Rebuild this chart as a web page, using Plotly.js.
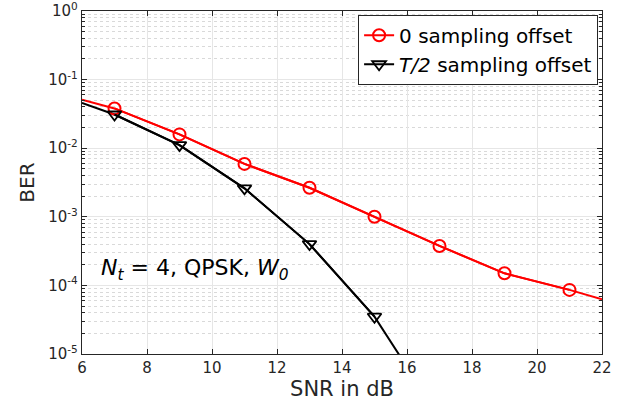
<!DOCTYPE html>
<html><head><meta charset="utf-8">
<script src="https://cdn.plot.ly/plotly-3.0.1.min.js"></script>
<style>body{margin:0;background:#fff}#c{width:624px;height:403px}</style>
</head><body><div id="c"></div>
<script>
// Red curve: 0 sampling offset
const redLineX = [6, 7, 9, 11, 13, 15, 17, 19, 21, 22];
const redLineY = [0.051, 0.038, 0.0159, 0.0059, 0.00265, 0.00100, 0.000376, 0.000150, 0.000086, 0.000063];
const redMarkX = [7, 9, 11, 13, 15, 17, 19, 21];
const redMarkY = [0.038, 0.0159, 0.0059, 0.00265, 0.00100, 0.000376, 0.000150, 0.000086];
// Black curve: T/2 sampling offset
const blkLineX = [6, 7, 9, 11, 13, 15, 17];
const blkLineY = [0.0458, 0.031, 0.0111, 0.0026, 0.00040, 0.000035, 0.0000012];
const blkMarkX = [7, 9, 11, 13, 15];
const blkMarkY = [0.031, 0.0111, 0.0026, 0.00040, 0.000035];
const yTickVals = [1e-5, 1e-4, 1e-3, 1e-2, 1e-1, 1];
const yTickText = ['10<sup>-5</sup>','10<sup>-4</sup>','10<sup>-3</sup>','10<sup>-2</sup>','10<sup>-1</sup>','10<sup>0</sup>'];
const xTickVals = [6, 8, 10, 12, 14, 16, 18, 20, 22];

const font = 'DejaVu Sans, Verdana, sans-serif';
const traces = [
  {x: redLineX, y: redLineY, mode: 'lines', line: {color: '#ff0000', width: 2}, showlegend: false, hoverinfo: 'skip'},
  {x: blkLineX, y: blkLineY, mode: 'lines', line: {color: '#000000', width: 2}, showlegend: false, hoverinfo: 'skip'},
  {x: redMarkX, y: redMarkY, mode: 'lines+markers', name: '0 sampling offset',
   line: {color: '#ff0000', width: 2}, marker: {symbol: 'circle-open', size: 12, color: '#ff0000', line: {width: 2}}},
  {x: blkMarkX, y: blkMarkY, mode: 'lines+markers', name: '<i>T/2</i> sampling offset',
   line: {color: '#000000', width: 2}, marker: {symbol: 'triangle-down-open', size: 12, color: '#000000', line: {width: 1.8}}}
];
const axisCommon = {
  showline: true, linecolor: '#262626', linewidth: 1.2, mirror: 'ticks',
  ticks: 'inside', ticklen: 5, tickcolor: '#262626',
  gridcolor: '#e6e6e6', gridwidth: 1, zeroline: false, ticklabeloverflow: 'allow',
  tickfont: {family: font, size: 15, color: '#262626'}
};
const layout = {
  width: 624, height: 403,
  margin: {l: 81.5, r: 22.3, t: 10.7, b: 48.7},
  paper_bgcolor: '#fff', plot_bgcolor: '#fff',
  font: {family: font, color: '#262626'},
  xaxis: Object.assign({}, axisCommon, {
    range: [6, 22], tickvals: xTickVals, ticktext: xTickVals.map(String),
    title: {text: 'SNR in dB', font: {family: font, size: 21, color: '#262626'}, standoff: 1}
  }),
  yaxis: Object.assign({}, axisCommon, {
    type: 'log', range: [-5, 0], tickvals: yTickVals, ticktext: yTickText,
    minor: {dtick: 'D1', showgrid: true, gridcolor: '#d9d9d9', griddash: 'dot', gridwidth: 1,
            ticks: 'inside', ticklen: 3, tickcolor: '#262626'},
    title: {text: 'BER', font: {family: font, size: 20, color: '#262626'}, standoff: 8}
  }),
  legend: {x: 0.9925, xanchor: 'right', y: 0.989, yanchor: 'top',
    bgcolor: '#fff', bordercolor: '#262626', borderwidth: 1,
    font: {family: font, size: 20, color: '#000'}, tracegroupgap: 0, itemwidth: 30},
  annotations: [{
    xref: 'paper', yref: 'paper', x: 0.032, y: 0.245, xanchor: 'left', yanchor: 'middle',
    showarrow: false, font: {family: font, size: 22, color: '#000'},
    text: '<i>N</i><sub><i>t</i></sub> = 4, QPSK, <i>W</i><sub><i>0</i></sub>'
  }]
};
Plotly.newPlot('c', traces, layout, {staticPlot: true});
</script></body></html>
